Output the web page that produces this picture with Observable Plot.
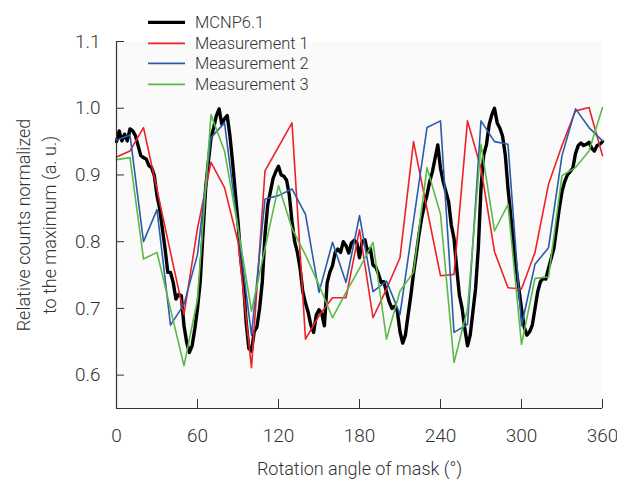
<!DOCTYPE html>
<html>
<head>
<meta charset="utf-8">
<script src="https://cdn.jsdelivr.net/npm/d3@7"></script>
<script src="https://cdn.jsdelivr.net/npm/@observablehq/plot@0.6"></script>
<style>
  html, body { margin: 0; padding: 0; background: #fff; }
  #wrap { position: relative; width: 617px; height: 480px; }
  #legend { position: absolute; left: 148px; top: 12px; font-family: Roboto, "Liberation Sans", sans-serif; font-weight: 300; font-size: 16.5px; color: #333; }
  .row { display: flex; align-items: center; height: 20.7px; }
  .row span { margin-left: 10px; }
</style>
</head>
<body>
<div id="wrap"></div>
<script>
// Measurement angles (degrees)
const measAngles = [0,10,20,30,40,50,60,70,80,90,100,110,120,130,140,150,160,170,180,190,200,210,220,230,240,250,260,270,280,290,300,310,320,330,340,350,360];

const measurement1 = [0.927,0.936,0.971,0.878,0.784,0.691,0.82,0.919,0.881,0.80,0.611,0.906,0.942,0.978,0.654,0.689,0.716,0.716,0.818,0.686,0.729,0.776,0.95,0.849,0.749,0.751,0.981,0.91,0.785,0.731,0.729,0.784,0.886,0.944,0.996,1.001,0.929];

const measurement2 = [0.952,0.960,0.800,0.848,0.675,0.706,0.781,0.956,0.978,0.82,0.66,0.864,0.869,0.879,0.841,0.724,0.799,0.739,0.839,0.725,0.741,0.691,0.831,0.971,0.981,0.664,0.676,0.981,0.95,0.946,0.674,0.766,0.791,0.929,0.999,0.971,0.951];

const measurement3 = [0.923,0.926,0.774,0.784,0.699,0.614,0.714,0.990,0.936,0.821,0.696,0.79,0.884,0.82,0.78,0.735,0.686,0.724,0.76,0.799,0.654,0.726,0.754,0.911,0.841,0.619,0.699,0.946,0.816,0.856,0.646,0.745,0.747,0.899,0.911,0.936,1.001];

// MCNP6.1 simulation, every 2 degrees from 0 to 360
const mcnpAngles = d3.range(0, 361, 2);
const mcnp = [
  0.95,0.966,0.951,0.961,0.951,0.969,0.966,0.959,0.944,0.929,
  0.926,0.924,0.914,0.911,0.899,0.869,0.849,0.819,0.789,0.754,
  0.754,0.739,0.714,0.721,0.719,0.674,0.649,0.634,0.644,0.669,
  0.70,0.74,0.81,0.879,0.919,0.955,0.971,0.989,0.999,0.976,
  0.984,0.989,0.959,0.919,0.874,0.83,0.775,0.74,0.68,0.64,
  0.636,0.665,0.672,0.70,0.74,0.81,0.855,0.875,0.895,0.905,
  0.913,0.9,0.898,0.892,0.87,0.83,0.8,0.784,0.76,0.725,
  0.708,0.694,0.675,0.664,0.69,0.698,0.692,0.674,0.738,0.754,
  0.764,0.784,0.789,0.784,0.8,0.794,0.783,0.798,0.802,0.799,
  0.776,0.80,0.803,0.784,0.79,0.765,0.762,0.752,0.739,0.74,
  0.725,0.71,0.70,0.703,0.696,0.665,0.648,0.66,0.69,0.719,
  0.752,0.78,0.81,0.835,0.854,0.87,0.89,0.905,0.925,0.945,
  0.91,0.89,0.875,0.86,0.825,0.805,0.76,0.72,0.70,0.67,
  0.644,0.66,0.695,0.73,0.79,0.88,0.93,0.945,0.975,0.99,
  1.0,0.978,0.97,0.958,0.93,0.88,0.84,0.8,0.76,0.73,
  0.70,0.672,0.66,0.665,0.675,0.7,0.725,0.74,0.745,0.744,
  0.76,0.775,0.79,0.82,0.85,0.875,0.89,0.9,0.905,0.91,
  0.932,0.944,0.948,0.944,0.946,0.949,0.94,0.936,0.944,0.946,
  0.95
];

const xTicks = [0,60,120,180,240,300,360];
const yTicks = [0.6,0.7,0.8,0.9,1.0,1.1];
const seriesNames = ["MCNP6.1","Measurement 1","Measurement 2","Measurement 3"];
const seriesColors = ["#000000","#ec2227","#2a5caa","#5cb947"];
const xLabel = "Rotation angle of mask (°)";
const yLabel = "Relative counts normalized\nto the maximum (a. u.)";

const mcnpData = mcnpAngles.map((a, i) => ({a, v: mcnp[i]}));
const m1 = measAngles.map((a, i) => ({a, v: measurement1[i]}));
const m2 = measAngles.map((a, i) => ({a, v: measurement2[i]}));
const m3 = measAngles.map((a, i) => ({a, v: measurement3[i]}));

const chart = Plot.plot({
  width: 617,
  height: 480,
  marginLeft: 116,
  marginRight: 15,
  marginTop: 41,
  marginBottom: 72,
  x: {domain: [0, 360]},
  y: {domain: [0.55, 1.1]},
  style: {fontFamily: "Roboto, 'Liberation Sans', sans-serif", fontWeight: 300, fontSize: "18px", color: "#333", background: "transparent"},
  marks: [
    Plot.frame({fill: "#fafafa", stroke: null}),
    Plot.line(mcnpData, {x: "a", y: "v", stroke: seriesColors[0], strokeWidth: 3.4, strokeLinejoin: "round"}),
    Plot.line(m1, {x: "a", y: "v", stroke: seriesColors[1], strokeWidth: 1.6}),
    Plot.line(m2, {x: "a", y: "v", stroke: seriesColors[2], strokeWidth: 1.6}),
    Plot.line(m3, {x: "a", y: "v", stroke: seriesColors[3], strokeWidth: 1.6}),
    Plot.ruleX([0], {stroke: "#333", strokeWidth: 1.2}),
    Plot.ruleY([0.55], {stroke: "#333", strokeWidth: 1.2}),
    Plot.axisX({ticks: xTicks, tickSize: -9, tickPadding: 29, tickFormat: d => String(d), label: null, stroke: "#333", fontSize: 19}),
    Plot.axisY({ticks: yTicks, tickSize: -8, tickPadding: 24, tickFormat: d3.format(".1f"), label: null, stroke: "#333", fontSize: 19}),
    Plot.text([xLabel], {frameAnchor: "bottom", dy: 66, fontSize: 18, fill: "#333"}),
    Plot.text([yLabel], {frameAnchor: "left", textAnchor: "middle", dx: -82, rotate: -90, fontSize: 18, lineHeight: 1.45, fill: "#333"})
  ]
});

const wrap = document.getElementById("wrap");
wrap.appendChild(chart);

const legend = document.createElement("div");
legend.id = "legend";
seriesNames.forEach((name, i) => {
  const row = document.createElement("div");
  row.className = "row";
  const w = i === 0 ? 3.4 : 1.6;
  row.innerHTML = `<svg width="37" height="20.7"><line x1="0" x2="37" y1="10.35" y2="10.35" stroke="${seriesColors[i]}" stroke-width="${w}"/></svg><span>${name}</span>`;
  legend.appendChild(row);
});
wrap.appendChild(legend);
</script>
</body>
</html>
